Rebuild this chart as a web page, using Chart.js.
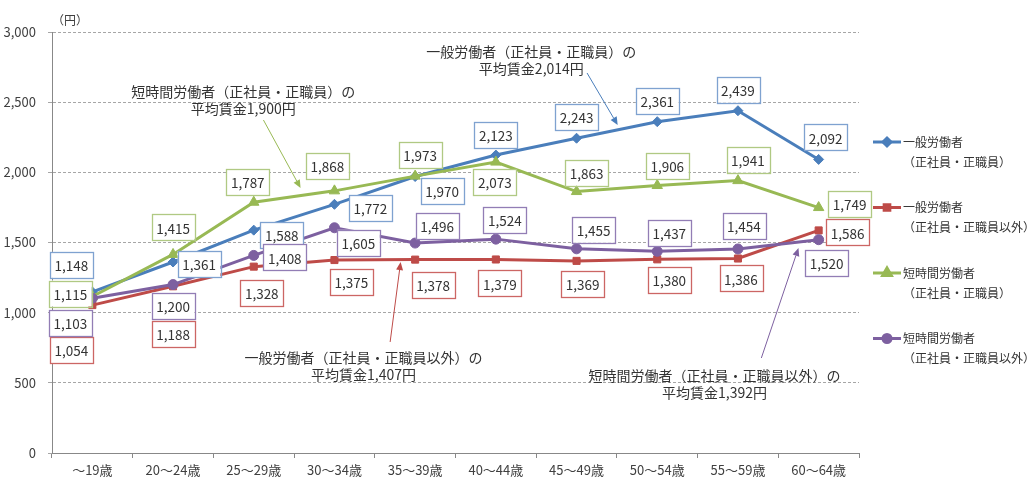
<!DOCTYPE html>
<html lang="ja">
<head>
<meta charset="utf-8">
<script src="https://cdn.jsdelivr.net/npm/chart.js@4.4.1/dist/chart.umd.min.js"></script>
<style>
  body{margin:0;background:#fff}
  #wrap{width:1034px;height:488px}
</style>
</head>
<body>
<div id="wrap"><canvas id="c" width="1034" height="488"></canvas></div>
<script>
// 年齢階級別 平均賃金（時給換算・円）
const ages = ['～19歳', '20～24歳', '25～29歳', '30～34歳', '35～39歳', '40～44歳', '45～49歳', '50～54歳', '55～59歳', '60～64歳'];

const fullRegular = [1148, 1361, 1588, 1772, 1970, 2123, 2243, 2361, 2439, 2092]; // 一般労働者（正社員・正職員）
const fullOther   = [1054, 1188, 1328, 1375, 1378, 1379, 1369, 1380, 1386, 1586]; // 一般労働者（正社員・正職員以外）
const partRegular = [1115, 1415, 1787, 1868, 1973, 2073, 1863, 1906, 1941, 1749]; // 短時間労働者（正社員・正職員）
const partOther   = [1103, 1200, 1408, 1605, 1496, 1524, 1455, 1437, 1454, 1520]; // 短時間労働者（正社員・正職員以外）

const seriesNames = [
  ['一般労働者', '（正社員・正職員）'],
  ['一般労働者', '（正社員・正職員以外）'],
  ['短時間労働者', '（正社員・正職員）'],
  ['短時間労働者', '（正社員・正職員以外）'],
];

const yMax = 3000;
const yStep = 500;

// 注記（平均賃金）
const noteTexts = [
  ['短時間労働者（正社員・正職員）の', '平均賃金1,900円'],
  ['一般労働者（正社員・正職員）の', '平均賃金2,014円'],
  ['一般労働者（正社員・正職員以外）の', '平均賃金1,407円'],
  ['短時間労働者（正社員・正職員以外）の', '平均賃金1,392円'],
];

// ---- ここから見た目の設定 ----
const FONT = '"Noto Sans CJK JP", "Noto Sans", sans-serif';
const colors = ['#4a7ebb', '#be4b48', '#98b954', '#7d60a0'];
const boxColors = ['#7fa2d0', '#cc6664', '#b0c983', '#927db5'];
const pointStyles = ['rectRot', 'rect', 'triangle', 'circle'];
const pointRadius = [5, 5, 6, 5];

// データラベルの位置（点からのずれ px）
const labelShift = [
  [[-21,-27],[26,2],[28,5],[36,4],[27,14],[0,-20],[0,-21],[0,-21],[0,-21],[7,-22]],
  [[-21,45],[0,48],[8,26],[17,22],[18,25],[4,24],[6,23],[12,21],[3,20],[29,2]],
  [[-22,-3],[0,-27],[-6,-20],[-7,-25],[5,-21],[-1,20],[10,-19],[10,-20],[10,-21],[31,-4]],
  [[-22,25],[0,21],[31,2],[24,15],[22,-17],[9,-19],[17,-19],[12,-18],[6,-23],[8,23]],
];

// 注記の位置（カテゴリ番号, 金額）
const notePlace = [
  { series: 2, text: [1.87, 2572], from: [2.12, 2373], to: [2.58, 1888] },
  { series: 0, text: [5.44, 2862], from: [6.13, 2708], to: [6.51, 2337] },
  { series: 1, text: [3.36, 677],  from: [3.69, 791],  to: [3.82, 1361] },
  { series: 3, text: [7.71, 549],  from: [8.29, 677],  to: [8.75, 1461] },
];

const fmt = v => v.toLocaleString('en-US');

function arrow(ctx, x1, y1, x2, y2, color) {
  const a = Math.atan2(y2 - y1, x2 - x1), L = 8, W = 3.5;
  const bx = x2 - L * Math.cos(a), by = y2 - L * Math.sin(a);
  ctx.strokeStyle = color; ctx.fillStyle = color; ctx.lineWidth = 1;
  ctx.beginPath(); ctx.moveTo(x1, y1); ctx.lineTo(bx, by); ctx.stroke();
  ctx.beginPath();
  ctx.moveTo(x2, y2);
  ctx.lineTo(bx - W * Math.sin(a), by + W * Math.cos(a));
  ctx.lineTo(bx + W * Math.sin(a), by - W * Math.cos(a));
  ctx.closePath(); ctx.fill();
}

// 枠付きデータラベル
const boxLabels = {
  id: 'boxLabels',
  afterDatasetsDraw(chart) {
    const ctx = chart.ctx;
    ctx.save();
    ctx.font = `13.5px ${FONT}`;
    ctx.textAlign = 'center';
    ctx.textBaseline = 'middle';
    chart.data.datasets.forEach((ds, i) => {
      chart.getDatasetMeta(i).data.forEach((pt, j) => {
        const txt = fmt(ds.data[j]);
        const [dx, dy] = labelShift[i][j];
        const cx = pt.x + dx, cy = pt.y + dy;
        const w = ctx.measureText(txt).width + 9, h = 26;
        ctx.fillStyle = '#fff';
        ctx.fillRect(cx - w / 2, cy - h / 2, w, h);
        ctx.strokeStyle = boxColors[i];
        ctx.lineWidth = 1.3;
        ctx.strokeRect(Math.round(cx - w / 2) + 0.5, Math.round(cy - h / 2) + 0.5, Math.round(w), h);
        ctx.fillStyle = '#333';
        ctx.fillText(txt, cx, cy + 1);
      });
    });
    ctx.restore();
  }
};

// 注記・単位・凡例
const extras = {
  id: 'extras',
  afterDraw(chart) {
    const ctx = chart.ctx, xs = chart.scales.x, ys = chart.scales.y, area = chart.chartArea;
    ctx.save();
    // 単位
    ctx.font = `12px ${FONT}`;
    ctx.fillStyle = '#404040';
    ctx.textAlign = 'left';
    ctx.textBaseline = 'middle';
    ctx.fillText('（円）', area.left, 20);

    // 注記
    notePlace.forEach((n, k) => {
      const c = colors[n.series];
      arrow(ctx, xs.getPixelForValue(n.from[0]), ys.getPixelForValue(n.from[1]),
                 xs.getPixelForValue(n.to[0]), ys.getPixelForValue(n.to[1]), c);
      ctx.font = `14px ${FONT}`;
      ctx.fillStyle = '#333';
      ctx.textAlign = 'center';
      ctx.textBaseline = 'middle';
      const tx = xs.getPixelForValue(n.text[0]), ty = ys.getPixelForValue(n.text[1]);
      noteTexts[k].forEach((line, li) => ctx.fillText(line, tx, ty + li * 17));
    });

    // 凡例
    const lx = area.right + 14, top = 142, step = 65.5;
    seriesNames.forEach((names, i) => {
      const y = top + i * step;
      ctx.strokeStyle = colors[i];
      ctx.fillStyle = colors[i];
      ctx.lineWidth = 3;
      ctx.beginPath(); ctx.moveTo(lx, y); ctx.lineTo(lx + 28, y); ctx.stroke();
      Chart.helpers.drawPoint(ctx, { pointStyle: pointStyles[i], radius: pointRadius[i] - 1, rotation: 0, borderWidth: 1 }, lx + 14, y);
      ctx.font = `12px ${FONT}`;
      ctx.fillStyle = '#333';
      ctx.textAlign = 'left';
      ctx.textBaseline = 'middle';
      ctx.fillText(names[0], lx + 30, y);
      ctx.fillText(names[1], lx + 30, y + 20);
    });
    ctx.restore();
  }
};

const seriesData = [fullRegular, fullOther, partRegular, partOther];

new Chart(document.getElementById('c'), {
  type: 'line',
  data: {
    labels: ages,
    datasets: seriesData.map((d, i) => ({
      label: seriesNames[i].join(''),
      data: d,
      borderColor: colors[i],
      backgroundColor: colors[i],
      borderWidth: 3,
      pointStyle: pointStyles[i],
      pointRadius: pointRadius[i],
      pointBorderWidth: 1,
      tension: 0,
      order: 4 - i,
    }))
  },
  options: {
    responsive: false,
    animation: false,
    layout: { padding: { top: 32, right: 175, left: 0, bottom: 0 } },
    plugins: { legend: { display: false }, tooltip: { enabled: false } },
    scales: {
      x: {
        offset: true,
        grid: { offset: true, drawOnChartArea: false, tickLength: 5, color: '#888' },
        border: { color: '#888' },
        ticks: { color: '#404040', font: { family: FONT, size: 13 }, padding: 4, maxRotation: 0, autoSkip: false },
        afterFit(s) { s.height = 35; }
      },
      y: {
        min: 0, max: yMax,
        ticks: { stepSize: yStep, callback: v => fmt(v), color: '#404040', font: { family: FONT, size: 13 }, padding: 12 },
        grid: { color: '#a6a6a6', tickLength: 4 },
        border: { color: '#888', dash: [3, 2] },
        afterFit(s) { s.width = 52; }
      }
    }
  },
  plugins: [boxLabels, extras]
});
</script>
</body>
</html>
